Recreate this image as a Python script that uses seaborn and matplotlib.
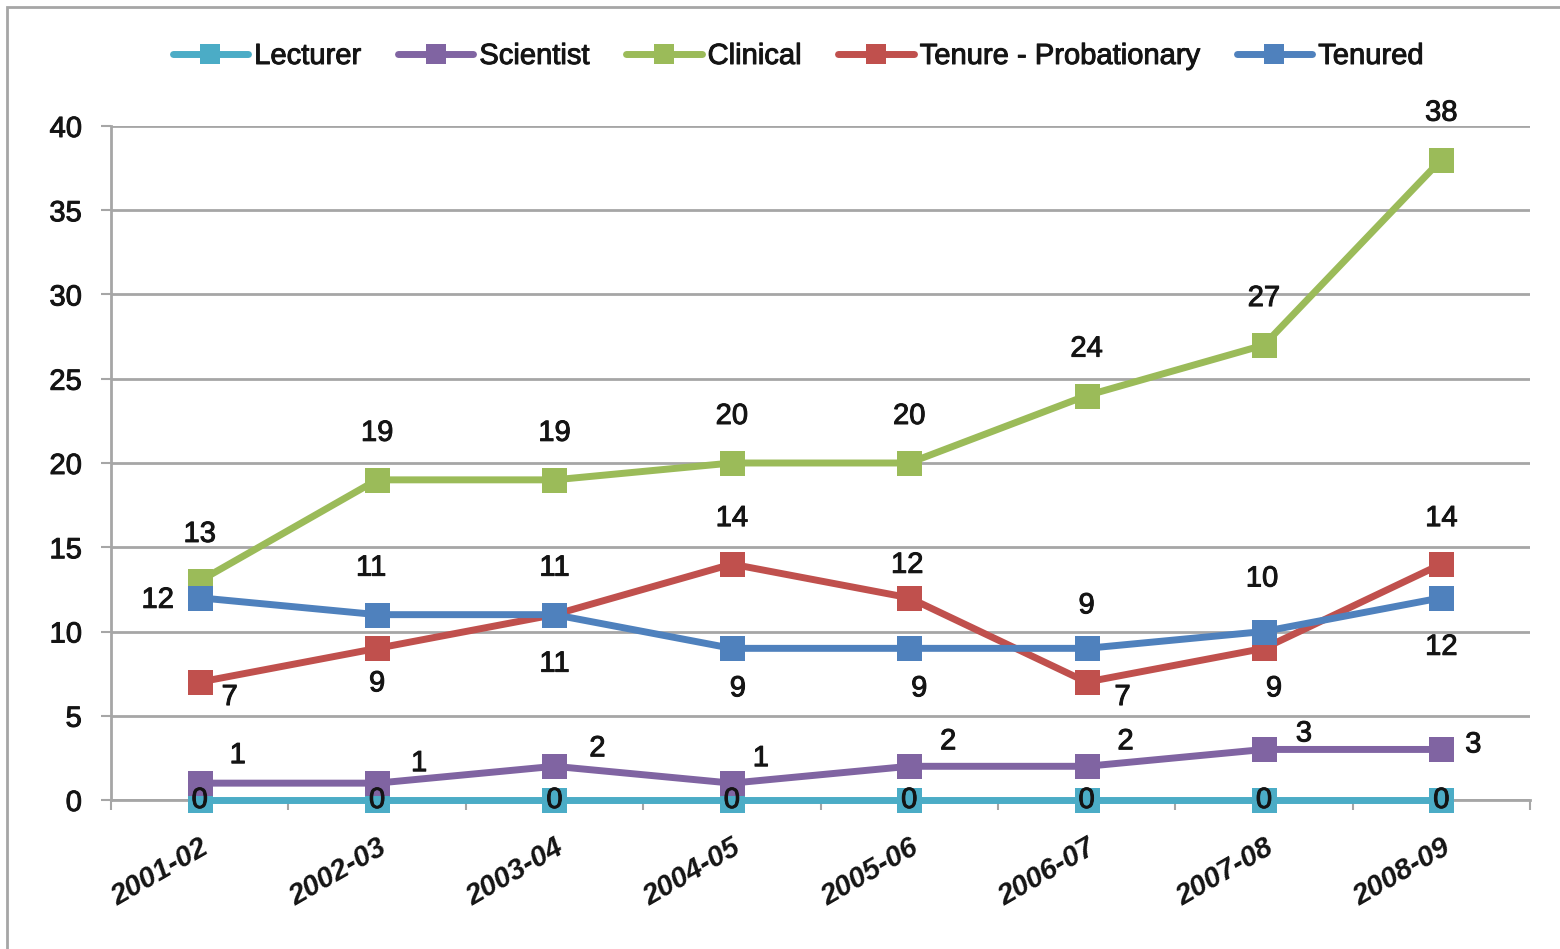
import matplotlib
matplotlib.use("Agg")
import matplotlib.pyplot as plt
import matplotlib.patheffects as pe
import seaborn as sns
import pandas as pd
from matplotlib.patches import Rectangle
from matplotlib.lines import Line2D
from matplotlib.font_manager import FontProperties

years = ["2001-02", "2002-03", "2003-04", "2004-05", "2005-06", "2006-07", "2007-08", "2008-09"]
lecturer = [0, 0, 0, 0, 0, 0, 0, 0]
scientist = [1, 1, 2, 1, 2, 2, 3, 3]
clinical = [13, 19, 19, 20, 20, 24, 27, 38]
tenure_prob = [7, 9, 11, 14, 12, 7, 9, 14]
tenured = [12, 11, 11, 9, 9, 9, 10, 12]
series_names = ["Lecturer", "Scientist", "Clinical", "Tenure - Probationary", "Tenured"]
series_values = [lecturer, scientist, clinical, tenure_prob, tenured]
colors = ["#4BACC6", "#8064A2", "#9BBB59", "#C0504D", "#4F81BD"]

# label offsets in pixels (dx, dy) per series per point
offsets = [
    [(0, 0)] * 8,
    [(38, 28), (42, 20), (43, 18), (29, 25), (39, 25), (39, 25), (40, 16), (32, 5)],
    [(0, 47)] * 8,
    [(30, -15), (0, -35), (0, -49), (0, 46), (-2, 33), (36, -15), (10, -40), (0, 46)],
    [(-42, -2), (-6, 47), (0, 47), (6, -40), (10, -40), (0, 43), (-2, 53), (0, -49)],
]

TXT = "#141414"
sns.set_theme(style="white")
plt.rcParams["font.family"] = ["Liberation Sans", "DejaVu Sans"]
plt.rcParams["font.stretch"] = "condensed"
heavy = [pe.withStroke(linewidth=0.7, foreground=TXT)]

def fp(size, weight="normal", style="normal", stretch="condensed"):
    return FontProperties(family=["Liberation Sans", "DejaVu Sans"], size=size,
                          weight=weight, style=style, stretch=stretch)

fig = plt.figure(figsize=(15.6, 9.49), dpi=100)
ax = fig.add_axes([111 / 1560, 1 - 800 / 949, (1530 - 111) / 1560, (800 - 126) / 949])

rows = []
for name, vals in zip(series_names, series_values):
    for y, v in zip(years, vals):
        rows.append({"Year": y, "Value": v, "Series": name})
df = pd.DataFrame(rows)

for i, (name, col) in enumerate(zip(series_names, colors)):
    sub = df[df["Series"] == name]
    sns.lineplot(data=sub, x="Year", y="Value", color=col, marker="s", markersize=18,
                 markeredgewidth=0, linewidth=5, sort=False, ax=ax, clip_on=False,
                 zorder=3 + i, legend=False)

for i, vals in enumerate(series_values):
    for j, v in enumerate(vals):
        dx, dy = offsets[i][j]
        ax.annotate(str(v), (j, v), xytext=(dx, dy), textcoords="offset pixels",
                    ha="center", va="center", color=TXT, path_effects=heavy,
                    fontproperties=fp(21), zorder=10, annotation_clip=False)

ax.set_xlim(-0.5, 7.5)
ax.set_ylim(0, 40)
ax.set_yticks(range(0, 41, 5))
ax.set_xticks(range(8))
ax.set_xticks([k - 0.5 for k in range(9)], minor=True)
ax.set_xticklabels(years, rotation=30, ha="right", rotation_mode="anchor",
                   fontproperties=fp(21, weight="bold", style="italic"), color=TXT)
ax.set_yticklabels([str(v) for v in range(0, 41, 5)], fontproperties=fp(21), color=TXT)
for t in ax.get_yticklabels():
    t.set_path_effects(heavy)
ax.tick_params(axis="x", which="major", length=0, pad=24)
ax.tick_params(axis="x", which="minor", length=7, width=1.5, color="#A6A6A6", direction="out", bottom=True)
ax.tick_params(axis="y", length=7, width=1.5, color="#A6A6A6", direction="out", left=True, pad=14)
ax.set_xlabel("")
ax.set_ylabel("")
ax.grid(axis="y", color="#A6A6A6", linewidth=2)
ax.grid(axis="x", visible=False)
ax.set_axisbelow(True)
for s in ["top", "right"]:
    ax.spines[s].set_visible(False)
for s in ["left", "bottom"]:
    ax.spines[s].set_color("#A6A6A6")
    ax.spines[s].set_linewidth(2)

handles = [Line2D([0], [0], color=c, marker="s", markersize=14, markeredgewidth=0, linewidth=5)
           for c in colors]
leg = fig.legend(handles, series_names, loc="center", bbox_to_anchor=(798 / 1560, 1 - 56 / 949),
                 ncol=5, frameon=False, handlelength=2.6, handletextpad=0.2,
                 columnspacing=1.25, prop=fp(21))
for t in leg.get_texts():
    t.set_color(TXT)
    t.set_path_effects(heavy)

fig.patches.append(Rectangle((7 / 1560, -0.1), 1.2, 1 - 7 / 949 + 0.1, transform=fig.transFigure,
                             fill=False, edgecolor="#A6A6A6", linewidth=2))

fig.savefig("out.png", dpi=100)
